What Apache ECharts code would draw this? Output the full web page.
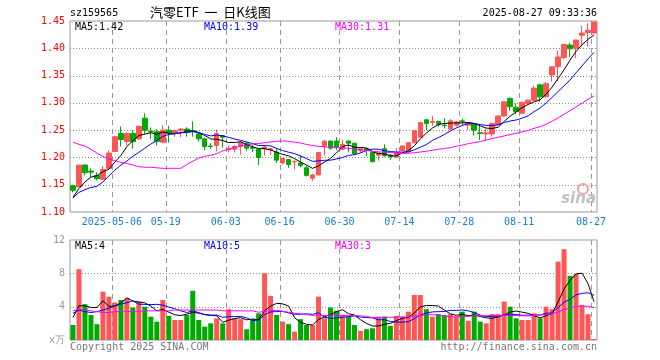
<!DOCTYPE html>
<html><head><meta charset="utf-8">
<script src="https://cdn.jsdelivr.net/npm/echarts@6/dist/echarts.min.js"></script>
<style>html,body{margin:0;padding:0;background:#fff}#c{width:660px;height:360px}</style>
</head><body><div id="c"></div>
<script>
const dates = ['2025-04-22','2025-04-23','2025-04-24','2025-04-25','2025-04-28','2025-04-29','2025-04-30','2025-05-06','2025-05-07','2025-05-08','2025-05-09','2025-05-12','2025-05-13','2025-05-14','2025-05-15','2025-05-16','2025-05-19','2025-05-20','2025-05-21','2025-05-22','2025-05-23','2025-05-26','2025-05-27','2025-05-28','2025-05-29','2025-05-30','2025-06-03','2025-06-04','2025-06-05','2025-06-06','2025-06-09','2025-06-10','2025-06-11','2025-06-12','2025-06-13','2025-06-16','2025-06-17','2025-06-18','2025-06-19','2025-06-20','2025-06-23','2025-06-24','2025-06-25','2025-06-26','2025-06-27','2025-06-30','2025-07-01','2025-07-02','2025-07-03','2025-07-04','2025-07-07','2025-07-08','2025-07-09','2025-07-10','2025-07-11','2025-07-14','2025-07-15','2025-07-16','2025-07-17','2025-07-18','2025-07-21','2025-07-22','2025-07-23','2025-07-24','2025-07-25','2025-07-28','2025-07-29','2025-07-30','2025-07-31','2025-08-01','2025-08-04','2025-08-05','2025-08-06','2025-08-07','2025-08-08','2025-08-11','2025-08-12','2025-08-13','2025-08-14','2025-08-15','2025-08-18','2025-08-19','2025-08-20','2025-08-21','2025-08-22','2025-08-25','2025-08-26','2025-08-27'];
const opens  = [1.148,1.146,1.186,1.175,1.167,1.160,1.180,1.211,1.244,1.229,1.244,1.234,1.272,1.248,1.247,1.228,1.250,1.245,1.250,1.252,1.249,1.243,1.234,1.221,1.222,1.240,1.214,1.215,1.220,1.226,1.218,1.215,1.216,1.214,1.210,1.190,1.196,1.192,1.190,1.181,1.162,1.168,1.221,1.230,1.230,1.215,1.230,1.226,1.212,1.216,1.209,1.204,1.216,1.204,1.201,1.212,1.211,1.227,1.237,1.269,1.264,1.266,1.259,1.252,1.259,1.267,1.259,1.262,1.245,1.243,1.243,1.260,1.276,1.308,1.292,1.281,1.299,1.305,1.333,1.311,1.351,1.366,1.383,1.406,1.400,1.424,1.429,1.428];
const closes = [1.140,1.186,1.172,1.173,1.161,1.178,1.208,1.238,1.233,1.244,1.229,1.257,1.250,1.247,1.229,1.250,1.245,1.249,1.252,1.247,1.248,1.234,1.220,1.220,1.244,1.237,1.216,1.220,1.227,1.217,1.217,1.200,1.219,1.216,1.195,1.198,1.187,1.193,1.185,1.167,1.168,1.209,1.230,1.217,1.218,1.224,1.226,1.207,1.216,1.213,1.192,1.208,1.203,1.201,1.209,1.221,1.227,1.249,1.264,1.262,1.266,1.261,1.258,1.267,1.265,1.266,1.264,1.250,1.244,1.245,1.262,1.276,1.302,1.293,1.284,1.301,1.305,1.327,1.311,1.335,1.366,1.384,1.407,1.399,1.415,1.428,1.433,1.448];
const lows   = [1.136,1.145,1.167,1.164,1.158,1.159,1.178,1.210,1.220,1.222,1.216,1.232,1.243,1.234,1.222,1.226,1.227,1.238,1.237,1.238,1.238,1.229,1.213,1.216,1.211,1.218,1.209,1.209,1.205,1.212,1.210,1.186,1.203,1.204,1.190,1.187,1.181,1.178,1.182,1.165,1.157,1.167,1.203,1.214,1.213,1.214,1.209,1.204,1.209,1.203,1.191,1.194,1.201,1.195,1.199,1.211,1.209,1.226,1.236,1.250,1.258,1.256,1.253,1.250,1.256,1.259,1.250,1.240,1.232,1.230,1.238,1.259,1.274,1.285,1.279,1.279,1.297,1.303,1.302,1.310,1.339,1.340,1.380,1.384,1.382,1.403,1.403,1.427];
const highs  = [1.150,1.186,1.187,1.180,1.173,1.184,1.213,1.239,1.257,1.246,1.250,1.258,1.281,1.255,1.252,1.259,1.258,1.251,1.254,1.255,1.266,1.246,1.236,1.226,1.251,1.241,1.222,1.223,1.229,1.229,1.223,1.216,1.222,1.217,1.217,1.198,1.197,1.194,1.204,1.185,1.170,1.209,1.231,1.231,1.237,1.232,1.231,1.227,1.218,1.218,1.210,1.209,1.224,1.206,1.217,1.222,1.228,1.249,1.265,1.269,1.276,1.267,1.272,1.270,1.267,1.271,1.265,1.263,1.258,1.253,1.264,1.277,1.303,1.310,1.299,1.302,1.306,1.331,1.335,1.338,1.367,1.396,1.408,1.410,1.416,1.441,1.446,1.448];
const volumes = [1.8,8.5,4.3,3.0,1.9,5.8,5.2,4.5,4.8,5.0,3.9,4.6,4.0,2.8,2.2,4.8,2.9,2.4,2.4,3.0,5.9,2.4,1.6,2.0,2.6,2.0,3.7,2.6,2.5,1.3,2.5,3.2,8.0,5.3,3.0,2.2,1.9,1.0,2.5,1.8,1.8,5.2,2.6,3.9,3.5,3.0,2.8,1.8,1.1,1.3,1.4,2.8,2.8,1.7,2.9,2.8,3.4,5.4,5.4,3.7,2.8,3.1,3.0,3.1,2.8,3.4,2.3,3.4,2.2,2.0,3.1,3.1,4.6,4.0,2.6,2.4,2.4,3.2,2.6,4.0,3.7,9.4,10.9,7.7,7.9,4.2,3.1,0.12];
// moving-average values for days whose window starts before the first shown day
const ma5Head  = [1.127,1.143,1.155,1.164];
const ma10Head = [1.126,1.136,1.141,1.145,1.147,1.155,1.166,1.177,1.186];
const ma30Head = [1.228,1.224,1.221,1.215,1.208,1.202,1.197,1.194,1.191,1.189,1.186,1.183,1.182,1.182,1.181,1.180,1.180,1.180,1.180,1.187,1.193,1.199,1.202,1.204,1.207,1.212,1.215,1.218,1.221];
const volMa5Head  = [2.7,4.1,4.1,3.9];
const volMa10Head = [3.2,3.6,3.4,3.3,3.4,3.6,3.8,4.1,4.3];
const volMa30Head = [3.5,3.7,3.6,3.5,3.4,3.3,3.3,3.4,3.4,3.4,3.4,3.4,3.5,3.5,3.5,3.5,3.5,3.6,3.6,3.6,3.6,3.6,3.6,3.6,3.6,3.5,3.5,3.5,3.5];
const labelDates = ['2025-05-06','2025-05-19','2025-06-03','2025-06-16','2025-06-30','2025-07-14','2025-07-28','2025-08-11','2025-08-27'];
const priceMin = 1.10, priceMax = 1.45, priceStep = 0.05;
const volMin = 0, volMax = 12, volStep = 4;

const RED = '#ff5555', GREEN = '#00aa00';
function ma(vals, n, head) {
  return vals.map((v, i) => {
    if (i < n - 1) return head[i];
    let s = 0; for (let k = i - n + 1; k <= i; k++) s += vals[k];
    return +(s / n).toFixed(4);
  });
}
const ma5 = ma(closes, 5, ma5Head), ma10 = ma(closes, 10, ma10Head), ma30 = ma(closes, 30, ma30Head);
const vma5 = ma(volumes, 5, volMa5Head), vma10 = ma(volumes, 10, volMa10Head), vma30 = ma(volumes, 30, volMa30Head);
const last = a => a[a.length - 1];
const kData = dates.map((d, i) => [opens[i], closes[i], lows[i], highs[i]]);
const vData = volumes.map((v, i) => ({ value: v, itemStyle: { color: closes[i] >= opens[i] ? RED : GREEN } }));

const mono = 'DejaVu Sans Mono';
const isLabel = (i, v) => labelDates.indexOf(v) >= 0;
const G0 = { left: 70, top: 21, width: 527, height: 191 };
const G1 = { left: 70, top: 240, width: 527, height: 100 };
function txt(x, y, text, fill, align, font) {
  return { type: 'text', x: x, y: y, silent: true, z: 100,
    style: { text: text, fill: fill, align: align || 'left', verticalAlign: 'middle', font: font || ('10px ' + mono) } };
}
const chart = echarts.init(document.getElementById('c'));
chart.setOption({
  animation: false,
  grid: [
    Object.assign({ show: true, borderColor: '#999' }, G0),
    Object.assign({ show: true, borderColor: '#999' }, G1)
  ],
  xAxis: [
    { type: 'category', gridIndex: 0, data: dates,
      axisLine: { show: false }, axisTick: { show: false },
      axisLabel: { interval: isLabel, color: '#1a80d0', fontFamily: mono, fontSize: 10, margin: 5, padding: [0, 6, 0, 0],
        formatter: v => v === labelDates[0] ? v : v.slice(5) },
      splitLine: { show: false } },
    { type: 'category', gridIndex: 1, data: dates,
      axisLine: { show: false }, axisTick: { show: false }, axisLabel: { show: false },
      splitLine: { show: false } }
  ],
  yAxis: [
    { type: 'value', gridIndex: 0, min: priceMin, max: priceMax, interval: priceStep,
      axisLine: { show: false }, axisTick: { show: false },
      axisLabel: { color: '#ff0000', fontFamily: mono, fontSize: 10, margin: 5, formatter: v => v.toFixed(2) },
      splitLine: { show: false } },
    { type: 'value', gridIndex: 1, min: volMin, max: volMax, interval: volStep,
      axisLine: { show: false }, axisTick: { show: false },
      axisLabel: { color: '#999', fontFamily: mono, fontSize: 10, margin: 5, formatter: v => v === 0 ? 'x万' : String(v) },
      splitLine: { show: false } }
  ],
  series: [
    { type: 'candlestick', xAxisIndex: 0, yAxisIndex: 0, data: kData, barWidth: 5, z: 3,
      itemStyle: { color: RED, color0: GREEN, borderColor: RED, borderColor0: GREEN, borderWidth: 1 } },
    { type: 'line', xAxisIndex: 0, yAxisIndex: 0, data: ma5, showSymbol: false, symbol: 'none', lineStyle: { color: '#000', width: 1 }, z: 5 },
    { type: 'line', xAxisIndex: 0, yAxisIndex: 0, data: ma10, showSymbol: false, symbol: 'none', lineStyle: { color: '#0000ff', width: 1 }, z: 5 },
    { type: 'line', xAxisIndex: 0, yAxisIndex: 0, data: ma30, showSymbol: false, symbol: 'none', lineStyle: { color: '#ff00ff', width: 1 }, z: 5 },
    { type: 'bar', xAxisIndex: 1, yAxisIndex: 1, data: vData, barWidth: 5, z: 3 },
    { type: 'line', xAxisIndex: 1, yAxisIndex: 1, data: vma5, showSymbol: false, symbol: 'none', lineStyle: { color: '#000', width: 1 }, z: 5 },
    { type: 'line', xAxisIndex: 1, yAxisIndex: 1, data: vma10, showSymbol: false, symbol: 'none', lineStyle: { color: '#0000ff', width: 1 }, z: 5 },
    { type: 'line', xAxisIndex: 1, yAxisIndex: 1, data: vma30, showSymbol: false, symbol: 'none', lineStyle: { color: '#ff00ff', width: 1 }, z: 5 }
  ]
});

// grid lines placed through the chart's own axes (category boundaries and value ticks)
const gridLines = [];
const bw = G0.width / dates.length;
function seg(x1, y1, x2, y2, dash, color) {
  return { type: 'line', silent: true, z: 1, shape: { x1: x1, y1: y1, x2: x2, y2: y2 },
    style: { stroke: color, lineWidth: 1, lineDash: dash } };
}
labelDates.forEach(d => {
  const cx = chart.convertToPixel({ xAxisIndex: 0 }, d) - bw / 2;
  const x = Math.round(cx) + 0.5;
  gridLines.push(seg(x, G0.top, x, G0.top + G0.height, [5, 4], '#999'));
  gridLines.push(seg(x, G1.top, x, G1.top + G1.height, [5, 4], '#999'));
});
for (let k = 1; k * priceStep < priceMax - priceMin - 1e-9; k++) {
  const y = Math.round(chart.convertToPixel({ yAxisIndex: 0 }, priceMin + k * priceStep)) + 0.5;
  gridLines.push(seg(G0.left, y, G0.left + G0.width, y, [1, 2], '#888'));
}
for (let k = 1; k * volStep < volMax - volMin - 1e-9; k++) {
  const y = Math.round(chart.convertToPixel({ yAxisIndex: 1 }, volMin + k * volStep)) + 0.5;
  gridLines.push(seg(G1.left, y, G1.left + G1.width, y, [1, 2], '#888'));
}

chart.setOption({
  graphic: gridLines.concat([
    txt(70, 13, 'sz159565', '#000'),
    txt(150, 12, '汽零ETF  一  日K线图', '#000', 'left', '13px "Noto Sans CJK SC"'),
    txt(597, 13, '2025-08-27 09:33:36', '#000', 'right'),
    txt(75, 27, 'MA5:' + last(ma5).toFixed(2), '#000'),
    txt(204, 27, 'MA10:' + last(ma10).toFixed(2), '#0000ff'),
    txt(335, 27, 'MA30:' + last(ma30).toFixed(2), '#ff00ff'),
    txt(75, 246, 'MA5:' + Math.floor(last(vma5)), '#000'),
    txt(204, 246, 'MA10:' + Math.floor(last(vma10)), '#0000ff'),
    txt(335, 246, 'MA30:' + Math.floor(last(vma30)), '#ff00ff'),
    txt(70, 347, 'Copyright 2025 SINA.COM', '#777'),
    txt(597, 347, 'http://finance.sina.com.cn', '#777', 'right'),
    { type: 'circle', silent: true, z: 90, shape: { cx: 583, cy: 189, r: 5 }, style: { fill: 'none', stroke: '#f6a0a0', lineWidth: 2 } },
    txt(596, 199, 'sina', '#c0c0c0', 'right', 'italic bold 15px "DejaVu Sans"')
  ])
});
</script></body></html>
